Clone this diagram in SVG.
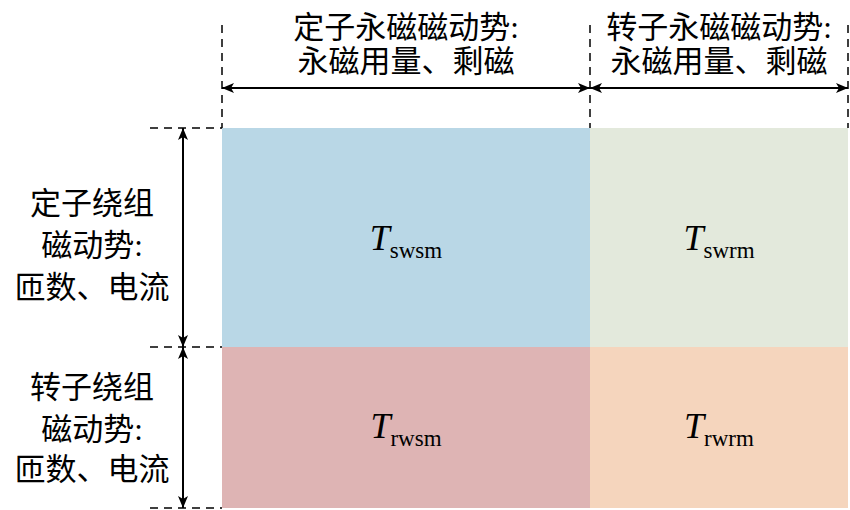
<svg xmlns="http://www.w3.org/2000/svg" width="850" height="510" viewBox="0 0 850 510">
<defs>
<marker id="ah" viewBox="0 0 12 10" refX="12" refY="5" markerWidth="12" markerHeight="10" markerUnits="userSpaceOnUse" orient="auto-start-reverse"><path d="M0,0 L12,5 L0,10 L3,5 Z" fill="#000"/></marker>
<style>
.d{stroke:#000;stroke-width:1.5;stroke-dasharray:8,6;fill:none}
.a{stroke:#000;stroke-width:2;fill:none;marker-start:url(#ah);marker-end:url(#ah)}
.c{font-family:"Liberation Serif","Noto Sans CJK SC",serif;font-size:31px;fill:#000;text-anchor:middle}
.t{font-family:"Liberation Serif",serif;font-size:36px;fill:#000;text-anchor:middle}
</style>
</defs>
<rect width="850" height="510" fill="#fff"/>
<g id="cell-swsm"><rect x="222" y="128" width="368" height="219" fill="#b9d7e6"/><text class="t" x="406" y="250"><tspan font-style="italic">T</tspan><tspan font-size="23" dy="8">swsm</tspan></text></g>
<g id="cell-swrm"><rect x="590" y="128" width="258" height="219" fill="#e3e9dc"/><text class="t" x="719" y="250"><tspan font-style="italic">T</tspan><tspan font-size="23" dy="8">swrm</tspan></text></g>
<g id="cell-rwsm"><rect x="222" y="347" width="368" height="161" fill="#deb4b4"/><text class="t" x="406" y="438"><tspan font-style="italic">T</tspan><tspan font-size="23" dy="8">rwsm</tspan></text></g>
<g id="cell-rwrm"><rect x="590" y="347" width="258" height="161" fill="#f5d5bd"/><text class="t" x="719" y="438"><tspan font-style="italic">T</tspan><tspan font-size="23" dy="8">rwrm</tspan></text></g>
<g id="connectors">
<path class="d" d="M222,25V128 M590,25V128 M848,25V128"/>
<path class="d" d="M150,128H222 M150,347H222 M150,508H222"/>
<path class="a" d="M222,88H590"/>
<path class="a" d="M590,88H848"/>
<path class="a" d="M183,128V347"/>
<path class="a" d="M183,347V508"/>
</g>
<g id="label-top1"><text class="c" x="406" y="38">定子永磁磁动势:</text><text class="c" x="406" y="72">永磁用量、剩磁</text></g>
<g id="label-top2"><text class="c" x="719" y="38">转子永磁磁动势:</text><text class="c" x="719" y="72">永磁用量、剩磁</text></g>
<g id="label-left1"><text class="c" x="92" y="214">定子绕组</text><text class="c" x="92" y="256">磁动势:</text><text class="c" x="92" y="298">匝数、电流</text></g>
<g id="label-left2"><text class="c" x="92" y="398">转子绕组</text><text class="c" x="92" y="440">磁动势:</text><text class="c" x="92" y="480">匝数、电流</text></g>
</svg>
